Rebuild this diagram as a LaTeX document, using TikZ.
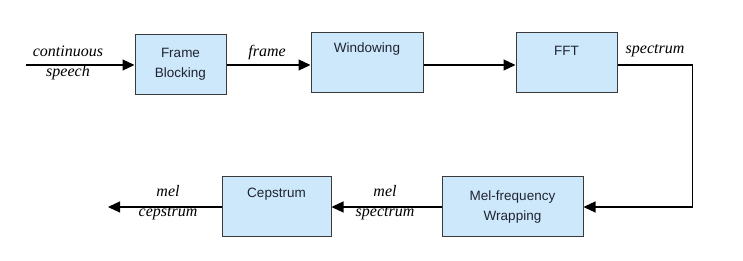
\documentclass[tikz,border=0pt]{standalone}
\usepackage{fontspec}
\usepackage{tikz}
\usetikzlibrary{arrows.meta,positioning,calc}
\newfontfamily\boxfont{Liberation Sans}
\newfontfamily\labelfont{Liberation Serif}
\definecolor{stageblue}{HTML}{CDE8FA}
\definecolor{stageedge}{HTML}{3A3A3A}
\definecolor{stagetext}{HTML}{1F2433}
\tikzset{
  stagebox/.style={
    draw=stageedge,
    fill=stageblue,
    line width=1pt,
    align=center,
    minimum height=60pt,
    inner sep=2pt,
    text=stagetext,
    font=\boxfont\fontsize{13.5}{20}\selectfont
  },
  toptext/.style={text height=9pt,text depth=#1},
  signalflow/.style={-{Triangle[length=12pt,width=11pt]},line width=1.2pt,draw=black},
  signallabel/.style={
    align=center,
    inner sep=0pt,
    font=\labelfont\itshape\fontsize{16}{20}\selectfont
  }
}

\begin{document}
\begin{tikzpicture}[x=1pt,y=-1pt]
  \useasboundingbox (0,0) rectangle (743,261);
  % upper row
  \node[stagebox,minimum width=91pt] (blocking) at (180.5,64.5) {Frame\\Blocking};
  \node[stagebox,minimum width=112pt,toptext=30pt] (windowing) at (367,63) {Windowing};
  \node[stagebox,minimum width=101pt,toptext=24pt] (fft) at (566.5,63) {FFT};
  % lower row
  \node[stagebox,minimum width=141pt] (melwrap) at (512.5,207) {Mel-frequency\\Wrapping};
  \node[stagebox,minimum width=109pt,toptext=28pt] (cepstrum) at (276.5,207) {Cepstrum};
  \coordinate (speechin) at (26,65);
  \coordinate (cepout) at (108,207);
  % labels
  \node[signallabel] (speechlbl) at (68,63) {continuous\\speech};
  \node[signallabel] (framelbl) at (267,53) {frame};
  \node[signallabel] (spectrumlbl) at (655,51) {spectrum};
  \node[signallabel] (mellbl) at (385,203) {mel\\spectrum};
  \node[signallabel] (ceplbl) at (168,203) {mel\\cepstrum};
  % connectors
  \draw[signalflow] (speechin) -- (speechin -| blocking.west);
  \draw[signalflow] (blocking.east |- speechin) -- (speechin -| windowing.west);
  \draw[signalflow] (windowing.east |- speechin) -- (speechin -| fft.west);
  \draw[signalflow] (fft.east |- speechin) -- ++(75,0) |- (melwrap.east);
  \draw[signalflow] (melwrap.west) -- (cepstrum.east);
  \draw[signalflow] (cepstrum.west) -- (cepout);
\end{tikzpicture}
\end{document}
